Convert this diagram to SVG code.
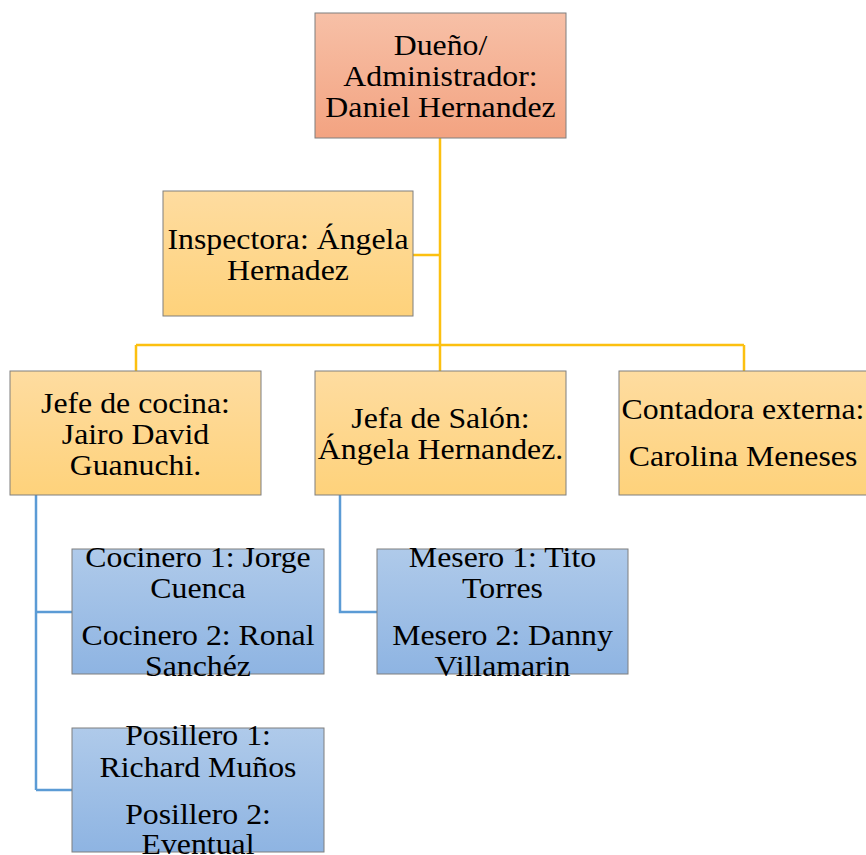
<svg xmlns="http://www.w3.org/2000/svg" width="866" height="855" viewBox="0 0 866 855">
<defs>
<linearGradient id="gRed" x1="0" y1="0" x2="0" y2="1"><stop offset="0" stop-color="#f7c0a7"/><stop offset="1" stop-color="#f3a381"/></linearGradient>
<linearGradient id="gOr" x1="0" y1="0" x2="0" y2="1"><stop offset="0" stop-color="#fedca0"/><stop offset="1" stop-color="#fed27b"/></linearGradient>
<linearGradient id="gBl" x1="0" y1="0" x2="0" y2="1"><stop offset="0" stop-color="#afcaea"/><stop offset="1" stop-color="#8eb4e2"/></linearGradient>
</defs>
<style>
.box{stroke:#7f7f7f;stroke-width:1}
.t{font-family:"Liberation Serif","Times New Roman",serif;font-size:30px;fill:#000;text-anchor:middle}
.co{stroke:#fcc010;stroke-width:2.5;fill:none}
.cb{stroke:#5b9bd5;stroke-width:2.5;fill:none}
</style>
<g id="connectors">
<path class="co" d="M440,138 V371 M413,255 H440 M136,345 H744 M136,345 V371 M744,345 V371"/>
<path class="cb" d="M36,495 V790 M36,612 H72 M36,790 H72 M340,495 V612 H377"/>
</g>
<g id="owner">
<rect class="box" x="315" y="13" width="251" height="125" fill="url(#gRed)"/>
<text class="t" transform="translate(440.5 0) scale(1.06 1)"><tspan x="0" y="55">Dueño/</tspan><tspan x="0" y="86">Administrador:</tspan><tspan x="0" y="117">Daniel Hernandez</tspan></text>
</g>
<g id="inspectora">
<rect class="box" x="163" y="191" width="250" height="125" fill="url(#gOr)"/>
<text class="t" transform="translate(288 0) scale(1.06 1)"><tspan x="0" y="249">Inspectora: Ángela</tspan><tspan x="0" y="280">Hernadez</tspan></text>
</g>
<g id="jefe-cocina">
<rect class="box" x="10" y="371" width="251" height="124" fill="url(#gOr)"/>
<text class="t" transform="translate(135.5 0) scale(1.06 1)"><tspan x="0" y="413">Jefe de cocina:</tspan><tspan x="0" y="444">Jairo David</tspan><tspan x="0" y="475">Guanuchi.</tspan></text>
</g>
<g id="jefa-salon">
<rect class="box" x="315" y="371" width="251" height="124" fill="url(#gOr)"/>
<text class="t" transform="translate(440.5 0) scale(1.06 1)"><tspan x="0" y="428">Jefa de Salón:</tspan><tspan x="0" y="459">Ángela Hernandez.</tspan></text>
</g>
<g id="contadora">
<rect class="box" x="619" y="371" width="252" height="124" fill="url(#gOr)"/>
<text class="t" transform="translate(743 0) scale(1.06 1)"><tspan x="0" y="419">Contadora externa:</tspan><tspan x="0" y="466">Carolina Meneses</tspan></text>
</g>
<g id="cocineros">
<rect class="box" x="72" y="549" width="252" height="125" fill="url(#gBl)"/>
<text class="t" transform="translate(198 0) scale(1.06 1)"><tspan x="0" y="567">Cocinero 1: Jorge</tspan><tspan x="0" y="598">Cuenca</tspan><tspan x="0" y="645">Cocinero 2: Ronal</tspan><tspan x="0" y="676">Sanchéz</tspan></text>
</g>
<g id="meseros">
<rect class="box" x="377" y="549" width="251" height="125" fill="url(#gBl)"/>
<text class="t" transform="translate(502.5 0) scale(1.06 1)"><tspan x="0" y="567">Mesero 1: Tito</tspan><tspan x="0" y="598">Torres</tspan><tspan x="0" y="645">Mesero 2: Danny</tspan><tspan x="0" y="676">Villamarin</tspan></text>
</g>
<g id="posilleros">
<rect class="box" x="72" y="728" width="252" height="124" fill="url(#gBl)"/>
<text class="t" transform="translate(198 0) scale(1.06 1)"><tspan x="0" y="745">Posillero 1:</tspan><tspan x="0" y="777">Richard Muños</tspan><tspan x="0" y="824">Posillero 2:</tspan><tspan x="0" y="854">Eventual</tspan></text>
</g>
</svg>
